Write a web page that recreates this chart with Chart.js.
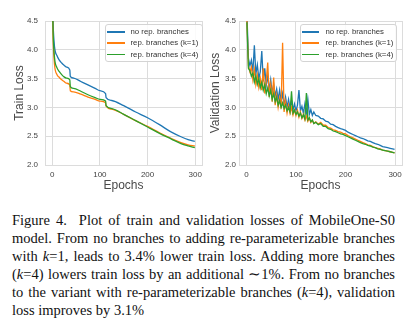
<!DOCTYPE html>
<html lang="en">
<head>
<meta charset="UTF-8">
<title>MobileOne-S0 losses</title>
<script src="https://cdn.jsdelivr.net/npm/chart.js"></script>
<style>
  html, body { margin: 0; padding: 0; background: #fff; }
  body { width: 414px; height: 327px; position: relative; overflow: hidden; }
  canvas { position: absolute; top: 0; }
  .legend {
    position: absolute; top: 24px; height: 38px; box-sizing: border-box;
    border: 1px solid #d4d4d4; border-radius: 3px; background: rgba(255,255,255,0.85);
    padding-top: 1px; font: 7.8px "Liberation Sans", Arial, sans-serif; color: #333;
  }
  .legend div { height: 11.3px; line-height: 11.3px; white-space: nowrap; }
  .legend span { display: inline-block; height: 1.6px; vertical-align: middle; }
  .caption {
    position: absolute; left: 12px; top: 211px; width: 383px;
    font: 14.5px "Liberation Serif", "Times New Roman", serif; color: #111;
  }
  .caption div { height: 18px; line-height: 18px; text-align: justify; text-align-last: justify; }
  .caption div.last { text-align-last: left; }
</style>
</head>
<body>
<canvas id="trainChart" width="207" height="200" style="left:0"></canvas>
<canvas id="valChart" width="207" height="200" style="left:207px"></canvas>
<div id="trainLegend" class="legend" style="left:105px;width:98px"></div>
<div id="valLegend" class="legend" style="left:300px;width:97px"></div>

<div class="caption">
  <div>Figure 4.&nbsp; Plot of train and validation losses of MobileOne-S0</div>
  <div>model. From no branches to adding re-parameterizable branches</div>
  <div>with <i>k</i>=1, leads to 3.4% lower train loss. Adding more branches</div>
  <div>(<i>k</i>=4) lowers train loss by an additional &#8764;1%. From no branches</div>
  <div>to the variant with re-parameterizable branches (<i>k</i>=4), validation</div>
  <div class="last">loss improves by 3.1%</div>
</div>

<script>
// series names and colours
const seriesNames = ['no rep. branches', 'rep. branches (k=1)', 'rep. branches (k=4)'];
const seriesColors = ['#1f77b4', '#ff7f0e', '#2ca02c'];

const xTicks = [0, 100, 200, 300];
const yTicks = [2.0, 2.5, 3.0, 3.5, 4.0, 4.5];

// train loss
const trainEpochs = [0, 2, 5, 10, 15, 20, 25, 30, 37, 38, 45, 60, 75, 90, 100, 112, 113, 125, 150, 175, 200, 225, 250, 270, 285, 299];
const trainNoRep = [5.2, 4.45, 4.05, 3.9, 3.82, 3.77, 3.73, 3.70, 3.65, 3.54, 3.51, 3.45, 3.39, 3.33, 3.29, 3.24, 3.17, 3.12, 3.03, 2.92, 2.82, 2.70, 2.57, 2.49, 2.44, 2.41];
const trainK1 = [5.0, 4.2, 3.74, 3.57, 3.52, 3.48, 3.45, 3.42, 3.39, 3.29, 3.27, 3.23, 3.18, 3.14, 3.11, 3.08, 3.02, 2.97, 2.88, 2.77, 2.67, 2.56, 2.46, 2.39, 2.35, 2.33];
const trainK4 = [5.1, 4.3, 3.86, 3.69, 3.62, 3.57, 3.53, 3.51, 3.48, 3.36, 3.33, 3.28, 3.22, 3.17, 3.14, 3.11, 3.03, 2.98, 2.88, 2.77, 2.66, 2.55, 2.45, 2.37, 2.33, 2.30];

// validation loss
const valEpochs = [1, 4, 7, 10, 13, 16, 19, 22, 25, 28, 31, 34, 37, 40, 43, 46, 49, 52, 55, 58, 61, 64, 67, 70, 73, 76, 79, 82, 85, 88, 91, 94, 97, 100, 103, 106, 109, 112, 115, 118, 121, 124, 127, 130, 133, 136,
  140, 145, 150, 155, 160, 165, 170, 175, 180, 185, 190, 195, 200, 205, 210, 215, 220, 225, 230, 235, 240, 245, 250, 255, 260, 265, 270, 275, 280, 285, 290, 295, 299];
const valNoRep = [4.62, 3.85, 3.72, 3.82, 3.62, 4.08, 3.58, 3.74, 3.50, 3.62, 3.98, 3.45, 3.68, 3.38, 3.55, 3.30, 3.48, 3.24, 3.40, 3.20, 3.32, 3.14, 3.30, 3.10, 3.24, 3.04, 3.18, 3.00, 3.14, 2.98, 3.12, 2.96, 3.06, 2.94, 3.04, 3.30, 2.94, 3.02, 2.90, 3.06, 2.90, 3.14, 2.88, 2.96, 2.86, 2.92,
  2.86, 2.85, 2.81, 2.80, 2.76, 2.75, 2.71, 2.70, 2.67, 2.65, 2.63, 2.62, 2.60, 2.57, 2.55, 2.53, 2.51, 2.49, 2.47, 2.46, 2.44, 2.42, 2.41, 2.39, 2.37, 2.36, 2.34, 2.32, 2.31, 2.30, 2.29, 2.28, 2.27];
const valK1 = [4.50, 3.72, 3.62, 3.70, 3.48, 3.66, 3.40, 3.56, 3.35, 3.50, 3.30, 3.68, 3.24, 3.46, 3.78, 3.18, 3.40, 3.10, 3.52, 3.04, 3.22, 3.00, 3.16, 2.98, 4.12, 2.92, 3.10, 2.90, 3.04, 2.90, 3.00, 2.87, 2.96, 2.86, 2.95, 2.83, 2.92, 2.81, 2.88, 2.78, 2.85, 2.76, 2.82, 2.74, 2.78, 2.72,
  2.75, 2.71, 2.74, 2.69, 2.69, 2.65, 2.64, 2.61, 2.60, 2.58, 2.57, 2.55, 2.54, 2.51, 2.49, 2.47, 2.45, 2.43, 2.41, 2.39, 2.37, 2.35, 2.34, 2.32, 2.30, 2.29, 2.28, 2.26, 2.25, 2.24, 2.23, 2.22, 2.21];
const valK4 = [4.48, 3.68, 3.64, 3.54, 3.60, 3.44, 3.55, 3.40, 3.50, 3.34, 3.44, 3.30, 3.40, 3.24, 3.34, 3.20, 3.30, 3.14, 3.24, 3.10, 3.18, 3.04, 3.12, 3.00, 3.08, 2.98, 3.04, 2.94, 3.00, 2.92, 3.28, 2.90, 2.95, 2.88, 2.92, 2.85, 2.90, 2.82, 2.87, 2.80, 3.25, 2.78, 2.82, 2.75, 2.78, 2.72,
  2.74, 2.70, 2.72, 2.67, 2.67, 2.63, 2.62, 2.59, 2.58, 2.56, 2.54, 2.53, 2.51, 2.49, 2.47, 2.45, 2.43, 2.41, 2.39, 2.37, 2.36, 2.34, 2.33, 2.31, 2.30, 2.28, 2.27, 2.26, 2.25, 2.24, 2.23, 2.22, 2.21];

const sansFont = '"Liberation Sans", Arial, sans-serif';
const gridColor = '#dcdcdc';

// draws the light frame round the plot area (matplotlib spines)
const frame = {
  id: 'frame',
  beforeDatasetsDraw(chart) {
    const { ctx, chartArea: a } = chart;
    ctx.save();
    ctx.strokeStyle = gridColor;
    ctx.lineWidth = 1;
    ctx.strokeRect(Math.round(a.left) + 0.5, Math.round(a.top) + 0.5, Math.round(a.right - a.left), Math.round(a.bottom - a.top));
    ctx.restore();
  }
};

function makeChart(id, yTitle, epochs, series, opt) {
  const datasets = series.map((vals, i) => ({
    label: seriesNames[i],
    data: epochs.map((e, j) => ({ x: e, y: vals[j] })),
    borderColor: seriesColors[i],
    borderWidth: 1.3,
    pointRadius: 0,
    cubicInterpolationMode: opt.smooth ? 'monotone' : 'default',
    order: series.length - i
  }));
  return new Chart(document.getElementById(id), {
    type: 'line',
    data: { datasets },
    plugins: [frame],
    options: {
      responsive: false,
      animation: false,
      layout: { padding: { top: 21, right: opt.padRight, left: 0, bottom: 0 } },
      plugins: { legend: { display: false }, tooltip: { enabled: false } },
      scales: {
        x: {
          type: 'linear', min: -15, max: 314,
          afterBuildTicks: s => { s.ticks = xTicks.map(v => ({ value: v })); },
          afterFit: s => { s.height = 35; },
          grid: { color: gridColor, drawTicks: false },
          border: { display: false },
          ticks: { font: { family: sansFont, size: 8 }, color: '#444', padding: 5, maxRotation: 0 },
          title: { display: true, text: 'Epochs', font: { family: sansFont, size: 12 }, color: '#4a4a4a', padding: { top: 0, bottom: 7 } }
        },
        y: {
          min: 2.0, max: 4.5,
          afterBuildTicks: s => { s.ticks = yTicks.map(v => ({ value: v })); },
          afterFit: s => { s.width = opt.yWidth; },
          grid: { color: gridColor, drawTicks: false },
          border: { display: false },
          ticks: { font: { family: sansFont, size: 8 }, color: '#444', padding: opt.tickPad, callback: v => v.toFixed(1) },
          title: { display: true, text: yTitle, font: { family: sansFont, size: 12 }, color: '#4a4a4a', padding: { top: opt.titlePad, bottom: 0 } }
        }
      }
    }
  });
}

makeChart('trainChart', 'Train Loss', trainEpochs, [trainNoRep, trainK1, trainK4],
  { padRight: 1, yWidth: 45, tickPad: 7, titlePad: 12, smooth: true });
makeChart('valChart', 'Validation Loss', valEpochs, [valNoRep, valK1, valK4],
  { padRight: 12, yWidth: 32, tickPad: 3, titlePad: 1, smooth: false });

// legends inside the plots, built from the series names
function makeLegend(id, handleW, gap) {
  const el = document.getElementById(id);
  seriesNames.forEach((name, i) => {
    const row = document.createElement('div');
    const line = document.createElement('span');
    line.style.width = handleW + 'px';
    line.style.marginLeft = '1px';
    line.style.marginRight = gap + 'px';
    line.style.background = seriesColors[i];
    row.appendChild(line);
    row.appendChild(document.createTextNode(name));
    el.appendChild(row);
  });
}
makeLegend('trainLegend', 18, 5.5);
makeLegend('valLegend', 17, 6.5);
</script>
</body>
</html>
